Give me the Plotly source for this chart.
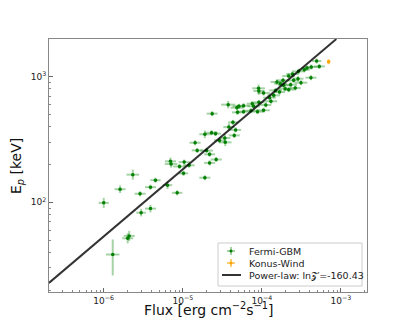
import plotly.graph_objects as go

# Fermi-GBM data (flux in erg cm^-2 s^-1, Ep in keV)
gbm_flux = [1.00e-6, 1.30e-6, 2.01e-6, 2.10e-6, 1.61e-6, 2.33e-6, 2.88e-6, 2.97e-6, 3.90e-6, 3.90e-6,
            4.51e-6, 6.40e-6, 8.48e-6, 6.98e-6, 7.11e-6, 9.08e-6, 1.04e-5, 1.02e-5, 1.20e-5, 1.90e-5,
            1.43e-5, 1.52e-5, 2.00e-5, 2.18e-5, 2.18e-5, 2.64e-5, 1.90e-5, 2.31e-5, 2.59e-5, 2.91e-5,
            3.40e-5, 3.44e-5, 4.47e-5, 3.82e-5, 4.65e-5, 4.30e-5, 2.35e-5, 3.75e-5, 4.83e-5, 5.12e-5,
            4.92e-5, 5.86e-5, 5.86e-5, 7.26e-5, 7.55e-5, 7.85e-5, 8.81e-5, 9.16e-5, 1.05e-4, 1.12e-4,
            9.08e-5, 9.16e-5, 1.05e-4, 1.25e-4, 1.30e-4, 1.41e-4, 1.49e-4, 1.67e-4, 1.71e-4, 1.88e-4,
            1.97e-4, 2.18e-4, 2.31e-4, 2.64e-4, 2.86e-4, 3.12e-4, 2.44e-4, 2.18e-4, 2.91e-4, 3.44e-4,
            3.72e-4, 4.17e-4, 4.21e-4, 4.92e-4, 5.32e-4, 1.85e-4, 1.55e-4, 2.52e-4]
gbm_ep = [99, 38.4, 51.7, 54.0, 127, 166, 117, 82.7, 89.1, 132,
          150, 137, 119, 212, 202, 193, 209, 170, 197, 157,
          298, 259, 258, 241, 206, 219, 348, 358, 352, 311,
          325, 300, 341, 397, 377, 433, 508, 599, 567, 581,
          520, 527, 588, 536, 610, 581, 527, 625, 540, 595,
          808, 769, 741, 681, 637, 710, 778, 755, 880, 853,
          803, 788, 864, 813, 964, 896, 1050, 1012, 1103, 1137,
          1172, 982, 1194, 1333, 1208, 935, 907, 935]
# errors in dex (log10 units)
gbm_flux_err_dex = [0.065, 0.085, 0.07, 0.07, 0.07, 0.08, 0.07, 0.06, 0.07, 0.07,
                    0.065, 0.06, 0.065, 0.07, 0.08, 0.08, 0.07, 0.06, 0.07, 0.07,
                    0.07, 0.07, 0.08, 0.07, 0.07, 0.07, 0.07, 0.08, 0.07, 0.07,
                    0.07, 0.08, 0.07, 0.07, 0.07, 0.06, 0.07, 0.09, 0.08, 0.08,
                    0.07, 0.08, 0.08, 0.08, 0.07, 0.08, 0.07, 0.07, 0.08, 0.07,
                    0.08, 0.07, 0.08, 0.08, 0.08, 0.08, 0.08, 0.07, 0.08, 0.07,
                    0.08, 0.07, 0.08, 0.07, 0.07, 0.08, 0.08, 0.08, 0.08, 0.07,
                    0.07, 0.07, 0.08, 0.06, 0.07, 0.08, 0.08, 0.07]
gbm_ep_err_plus_dex = [0.04, 0.12, 0.04, 0.04, 0.03, 0.04, 0.02, 0.03, 0.03, 0.02,
                       0.02, 0.03, 0.02, 0.03, 0.03, 0.02, 0.02, 0.02, 0.02, 0.02,
                       0.02, 0.02, 0.02, 0.02, 0.02, 0.02, 0.03, 0.02, 0.02, 0.02,
                       0.03, 0.03, 0.02, 0.03, 0.02, 0.02, 0.02, 0.03, 0.02, 0.02,
                       0.02, 0.02, 0.02, 0.02, 0.02, 0.02, 0.02, 0.02, 0.02, 0.02,
                       0.03, 0.03, 0.02, 0.02, 0.02, 0.02, 0.02, 0.02, 0.02, 0.02,
                       0.02, 0.02, 0.02, 0.02, 0.02, 0.02, 0.02, 0.02, 0.02, 0.02,
                       0.02, 0.02, 0.02, 0.02, 0.02, 0.02, 0.02, 0.02]
gbm_ep_err_minus_dex = [0.04, 0.167, 0.04, 0.04, 0.03, 0.04, 0.02, 0.03, 0.03, 0.02,
                        0.02, 0.03, 0.02, 0.03, 0.03, 0.02, 0.02, 0.02, 0.02, 0.02,
                        0.02, 0.02, 0.02, 0.02, 0.02, 0.02, 0.03, 0.02, 0.02, 0.02,
                        0.03, 0.03, 0.02, 0.03, 0.02, 0.02, 0.02, 0.03, 0.02, 0.02,
                        0.02, 0.02, 0.02, 0.02, 0.02, 0.02, 0.02, 0.02, 0.02, 0.02,
                        0.03, 0.03, 0.02, 0.02, 0.02, 0.02, 0.02, 0.02, 0.02, 0.02,
                        0.02, 0.02, 0.02, 0.02, 0.02, 0.02, 0.02, 0.02, 0.02, 0.02,
                        0.02, 0.02, 0.02, 0.02, 0.02, 0.02, 0.02, 0.02]

# Konus-Wind data
kw_flux = [6.98e-4]
kw_ep = [1316]
kw_flux_err_dex = [0.02]
kw_ep_err_dex = [0.02]

# Power-law fit line (read endpoints)
pl_flux = [2.03e-7, 8.73e-4]
pl_ep = [22.8, 1995]

legend_names = ["Fermi-GBM", "Konus-Wind", "Power-law: ln𝒵=-160.43"]

x_tickvals = [1e-6, 1e-5, 1e-4, 1e-3]
x_ticktext = ["10<sup>−6</sup>", "10<sup>−5</sup>", "10<sup>−4</sup>", "10<sup>−3</sup>"]
y_tickvals = [1e2, 1e3]
y_ticktext = ["10<sup>2</sup>", "10<sup>3</sup>"]


def plus(v, d):
    return [a * (10 ** e - 1) for a, e in zip(v, d)]


def minus(v, d):
    return [a * (1 - 10 ** (-e)) for a, e in zip(v, d)]


GREEN = "rgb(0,128,0)"
GREEN_ERR = "rgba(0,128,0,0.35)"
ORANGE = "rgb(255,165,0)"
ORANGE_ERR = "rgba(255,165,0,0.55)"
LINE = "rgba(0,0,0,0.8)"
FONT = "DejaVu Sans"

fig = go.Figure()

fig.add_trace(go.Scatter(
    x=gbm_flux, y=gbm_ep, mode="markers", showlegend=False,
    marker=dict(color=GREEN, size=3.5),
    error_x=dict(type="data", symmetric=False,
                 array=plus(gbm_flux, gbm_flux_err_dex),
                 arrayminus=minus(gbm_flux, gbm_flux_err_dex),
                 color=GREEN_ERR, thickness=2, width=0),
    error_y=dict(type="data", symmetric=False,
                 array=plus(gbm_ep, gbm_ep_err_plus_dex),
                 arrayminus=minus(gbm_ep, gbm_ep_err_minus_dex),
                 color=GREEN_ERR, thickness=2, width=0),
))

fig.add_trace(go.Scatter(
    x=kw_flux, y=kw_ep, mode="markers", showlegend=False,
    marker=dict(color=ORANGE, size=3.5),
    error_x=dict(type="data", symmetric=False,
                 array=plus(kw_flux, kw_flux_err_dex),
                 arrayminus=minus(kw_flux, kw_flux_err_dex),
                 color=ORANGE_ERR, thickness=2, width=0),
    error_y=dict(type="data", symmetric=False,
                 array=plus(kw_ep, kw_ep_err_dex),
                 arrayminus=minus(kw_ep, kw_ep_err_dex),
                 color=ORANGE_ERR, thickness=2, width=0),
))

fig.add_trace(go.Scatter(
    x=pl_flux, y=pl_ep, mode="lines", showlegend=False,
    line=dict(color=LINE, width=2),
))

minor_vals = [m * 10 ** k for k in range(-8, 5) for m in range(2, 10)]

axis_common = dict(
    type="log", showgrid=False, zeroline=False, automargin=False,
    showline=True, linecolor="#888888", linewidth=1, mirror=True,
    ticks="inside", ticklen=4, tickcolor="#666666", tickwidth=1,
    minor=dict(ticks="inside", ticklen=2, tickcolor="#888888", showgrid=False,
               tickmode="array", tickvals=minor_vals),
    tickfont=dict(family=FONT, size=9, color="#222222"),
)

fig.update_xaxes(**axis_common, range=[-6.692, -2.671],
                 tickvals=x_tickvals, ticktext=x_ticktext, ticklabelstandoff=0)
fig.update_yaxes(**axis_common, range=[1.286, 3.300],
                 tickvals=y_tickvals, ticktext=y_ticktext)

# page offset caused by the default 8px body margin of the html page
OFF = 8
FIG_W, FIG_H = 407 - 2 * OFF, 326 - 2 * OFF

# plot-area geometry in page pixels
L, R, T, B = 49, 367, 39, 292
W, H = R - L, B - T


def px(x):
    return (x - L) / W


def py(y):
    return (B - y) / H


shapes = []
annotations = []
# legend box
shapes.append(dict(type="rect", xref="paper", yref="paper",
                   x0=px(218), x1=px(362), y0=py(286), y1=py(243),
                   line=dict(color="#cccccc", width=1), fillcolor="rgba(255,255,255,0.85)"))
row_y = [251, 263, 275]
sym_x = 231
cols = [(GREEN, GREEN_ERR), (ORANGE, ORANGE_ERR)]
for i, (c, ce) in enumerate(cols):
    yc = row_y[i]
    shapes.append(dict(type="line", xref="paper", yref="paper",
                       x0=px(sym_x - 4), x1=px(sym_x + 4), y0=py(yc), y1=py(yc),
                       line=dict(color=ce, width=2)))
    shapes.append(dict(type="line", xref="paper", yref="paper",
                       x0=px(sym_x), x1=px(sym_x), y0=py(yc - 4), y1=py(yc + 4),
                       line=dict(color=ce, width=2)))
    shapes.append(dict(type="circle", xref="paper", yref="paper",
                       x0=px(sym_x - 1.5), x1=px(sym_x + 1.5), y0=py(yc + 1.5), y1=py(yc - 1.5),
                       line=dict(color=c, width=0), fillcolor=c))
shapes.append(dict(type="line", xref="paper", yref="paper",
                   x0=px(222), x1=px(241), y0=py(row_y[2]), y1=py(row_y[2]),
                   line=dict(color=LINE, width=2)))
for i, name in enumerate(legend_names):
    annotations.append(dict(text=name, xref="paper", yref="paper",
                            x=px(247), y=py(row_y[i]), xanchor="left", yanchor="middle",
                            showarrow=False, font=dict(family=FONT, size=9.5, color="#222222")))

# axis titles
annotations.append(dict(text="Flux [erg cm<sup>−2</sup>s<sup>−1</sup>]", xref="paper", yref="paper",
                        x=px(208), y=py(309), xanchor="center", yanchor="middle", showarrow=False,
                        font=dict(family=FONT, size=14, color="#111111")))
annotations.append(dict(text="E<sub><i>p</i></sub> [keV]", xref="paper", yref="paper",
                        x=px(17), y=py(166), xanchor="center", yanchor="middle", showarrow=False,
                        textangle=-90, font=dict(family=FONT, size=14, color="#111111")))

fig.update_layout(
    width=FIG_W, height=FIG_H,
    margin=dict(l=L - OFF, r=FIG_W + OFF - R, t=T - OFF, b=FIG_H + OFF - B),
    plot_bgcolor="white", paper_bgcolor="white",
    showlegend=False,
    shapes=shapes, annotations=annotations,
)

fig.write_html("out.html")
